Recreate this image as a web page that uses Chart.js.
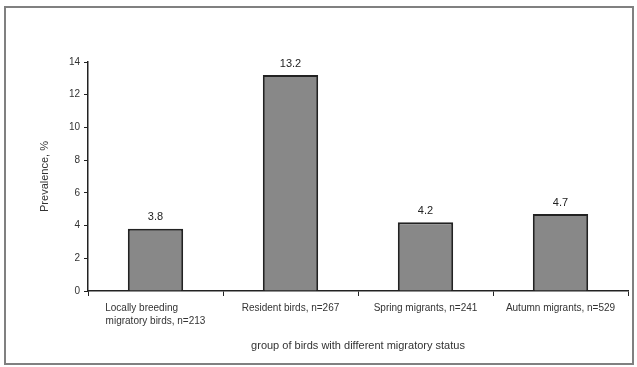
<!DOCTYPE html>
<html>
<head>
<meta charset="utf-8">
<script src="https://cdn.jsdelivr.net/npm/chart.js@4"></script>
<style>
  body { margin: 0; background: #fff; }
  .wrap { position: relative; width: 637px; height: 367px; }
  .frame { position: absolute; left: 4px; top: 6px; width: 626px; height: 355px; border: 2px solid #808080; pointer-events: none; }
</style>
</head>
<body>
<div class="wrap">
  <canvas id="chart" width="637" height="367"></canvas>
  <div class="frame"></div>
</div>
<script>
const groups = [
  ['Locally breeding          ', 'migratory birds, n=213'],
  'Resident birds, n=267',
  'Spring migrants, n=241',
  'Autumn migrants, n=529'
];
const prevalence = [3.8, 13.2, 4.2, 4.7];
const valueLabels = ['3.8', '13.2', '4.2', '4.7'];

// draws the numbers above the bars
const barValues = {
  id: 'barValues',
  afterDatasetsDraw(chart) {
    const ctx = chart.ctx;
    const meta = chart.getDatasetMeta(0);
    ctx.save();
    ctx.font = '11px "Liberation Sans", Arial, sans-serif';
    ctx.fillStyle = '#222';
    ctx.textAlign = 'center';
    ctx.textBaseline = 'bottom';
    meta.data.forEach((bar, i) => {
      ctx.fillText(valueLabels[i], bar.x, bar.y - 6);
    });
    ctx.restore();
  }
};

new Chart(document.getElementById('chart'), {
  type: 'bar',
  data: {
    labels: groups,
    datasets: [{
      data: prevalence,
      backgroundColor: '#888888',
      borderColor: '#222',
      borderWidth: 2,
      categoryPercentage: 1,
      barPercentage: 0.41
    }]
  },
  options: {
    responsive: false,
    animation: false,
    layout: { padding: { left: 34, right: 9, top: 62, bottom: 12 } },
    plugins: { legend: { display: false }, tooltip: { enabled: false } },
    scales: {
      x: {
        afterFit: s => { s.height = 64; },
        grid: { offset: true, drawOnChartArea: false, tickLength: 5, color: '#222' },
        border: { color: '#222', width: 1.5 },
        ticks: {
          color: '#333', padding: 6,
          font: { family: '"Liberation Sans", Arial, sans-serif', size: 10, lineHeight: 1.3 },
          maxRotation: 0, autoSkip: false
        },
        title: {
          display: true, text: 'group of birds with different migratory status',
          color: '#333', padding: { top: 0, bottom: 2 },
          font: { family: '"Liberation Sans", Arial, sans-serif', size: 11 }
        }
      },
      y: {
        min: 0, max: 14,
        afterFit: s => { s.width = 54; },
        grid: { drawOnChartArea: false, tickLength: 4, color: '#222' },
        border: { color: '#222', width: 1.5 },
        ticks: {
          stepSize: 2, color: '#333', padding: 4,
          font: { family: '"Liberation Sans", Arial, sans-serif', size: 10 }
        },
        title: {
          display: true, text: 'Prevalence, %',
          color: '#333', padding: { top: 4, bottom: 0 },
          font: { family: '"Liberation Sans", Arial, sans-serif', size: 11 }
        }
      }
    }
  },
  plugins: [barValues]
});
</script>
</body>
</html>
